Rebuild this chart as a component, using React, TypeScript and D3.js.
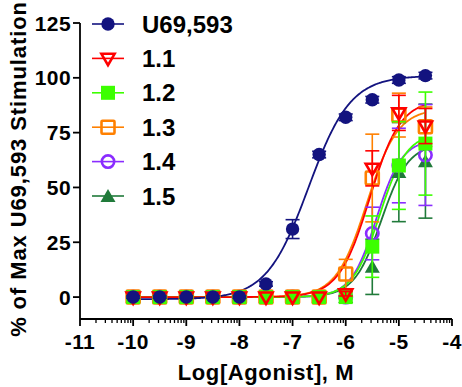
import React from "react";
import * as d3 from "d3";

// ---- data ----
const logDose = [-10, -9.5, -9, -8.5, -8, -7.5, -7, -6.5, -6, -5.5, -5, -4.5];
const seriesNames = ["U69,593", "1.1", "1.2", "1.3", "1.4", "1.5"];
const seriesColors = ["#13137f", "#ff0000", "#3cff00", "#ff8000", "#8a2cff", "#207a3a"];
const seriesShapes = ["circle", "triangleDown", "square", "squareOpen", "circleOpen", "triangleUp"];

const meanU69 = [0, 0, 0, 0, 0, 6, 31, 65, 82, 90, 99, 101];
const semU69 = [0.5, 0.5, 0.5, 0.5, 0.5, 1, 4.3, 1.5, 1.5, 1.5, 1.5, 1.5];
const mean11 = [0, 0, 0, 0, 0, 0, 0, 0, 1.5, 58.7, 84, 78];
const sem11 = [0, 0, 0, 0, 0, 0, 0, 0, 1, 8, 8, 8];
const mean12 = [0, 0, 0, 0, 0, 0, 0, 0, 0, 23, 60, 70];
const sem12 = [0, 0, 0, 0, 0, 0, 0, 0, 0.5, 14, 20, 23.5];
const mean13 = [0, 0, 0, 0, 0, 0, 0, 0, 10.5, 54.3, 83, 77.7];
const sem13 = [0, 0, 0, 0, 0, 0, 0, 0, 6.7, 20, 10, 9];
const mean14 = [0, 0, 0, 0, 0, 0, 0, 0, 0, 29, 60, 64.8];
const sem14 = [0, 0, 0, 0, 0, 0, 0, 0, 0.5, 12, 17, 23];
const mean15 = [0, 0, 0, 0, 0, 0, 0, 0, 0, 13.8, 57, 62];
const sem15 = [0, 0, 0, 0, 0, 0, 0, 0, 0.5, 12.6, 22.6, 26];

// sigmoidal fit parameters (bottom, top, logEC50, Hill slope)
const fitBottom = [-1, 0, 0, 0, 0, 0];
const fitTop = [101, 90, 75, 86, 72, 70];
const fitLogEC50 = [-6.7, -5.55, -5.36, -5.6, -5.42, -5.33];
const fitHill = [1.1, 1.5, 1.7, 1.5, 1.8, 1.7];

const xTicks = [-11, -10, -9, -8, -7, -6, -5, -4];
const yTicks = [0, 25, 50, 75, 100, 125];

const means = [meanU69, mean11, mean12, mean13, mean14, mean15];
const sems = [semU69, sem11, sem12, sem13, sem14, sem15];

const W = 462;
const H = 387;
const FONT = "'Liberation Sans', Arial, Helvetica, sans-serif";

function Marker({ shape, color, cx, cy }: { shape: string; color: string; cx: number; cy: number }) {
  const sw = 2.6;
  switch (shape) {
    case "circle":
      return <circle cx={cx} cy={cy} r={6.7} fill={color} />;
    case "circleOpen":
      return <circle cx={cx} cy={cy} r={6.2} fill="none" stroke={color} strokeWidth={sw} />;
    case "square":
      return <rect x={cx - 7} y={cy - 7} width={14} height={14} fill={color} />;
    case "squareOpen":
      return (
        <rect x={cx - 6.5} y={cy - 6.5} width={13} height={13} rx={1} fill="none" stroke={color} strokeWidth={sw} />
      );
    case "triangleDown":
      return (
        <path
          d={`M${cx - 6.6},${cy - 4.6}L${cx + 6.6},${cy - 4.6}L${cx},${cy + 6.8}Z`}
          fill="none"
          stroke={color}
          strokeWidth={sw}
          strokeLinejoin="miter"
        />
      );
    case "triangleUp":
      return <path d={`M${cx - 7.5},${cy + 6}L${cx + 7.5},${cy + 6}L${cx},${cy - 7}Z`} fill={color} />;
    default:
      return null;
  }
}

export default function App() {
  const x = d3.scaleLinear().domain([-11, -4]).range([80, 452]);
  const y = d3.scaleLinear().domain([-10, 125]).range([319, 23]);

  const curveX = d3.range(-10, -4.5 + 1e-9, 0.02);
  const line = d3
    .line<number>()
    .x((d) => x(d))
    .curve(d3.curveLinear);

  const curves = seriesNames.map((_, i) =>
    line.y((d) => y(fitBottom[i] + (fitTop[i] - fitBottom[i]) / (1 + Math.pow(10, (fitLogEC50[i] - d) * fitHill[i]))))(
      curveX
    )
  );

  const minorTicks: number[] = [];
  for (let dec = -11; dec < -4; dec++) {
    for (let k = 2; k <= 9; k++) minorTicks.push(dec + Math.log10(k));
  }

  const order = [5, 4, 3, 2, 1, 0];
  const legendY = (i: number) => 24 + i * 34.4;

  return (
    <svg
      width={W}
      height={H}
      style={{ position: "absolute", left: 0, top: 0, background: "#fff" }}
      fontFamily={FONT}
      fontWeight="bold"
    >
      <rect width={W} height={H} fill="#fff" />
      {/* curves */}
      {order.map((i) => (
        <path key={"c" + i} d={curves[i] || ""} fill="none" stroke={seriesColors[i]} strokeWidth={1.8} />
      ))}
      {/* data */}
      {order.map((i) => (
        <g key={"s" + i}>
          {logDose.map((ld, j) =>
            sems[i][j] > 0 ? (
              <g key={j} stroke={seriesColors[i]} strokeWidth={1.6}>
                <line x1={x(ld)} x2={x(ld)} y1={y(means[i][j] - sems[i][j])} y2={y(means[i][j] + sems[i][j])} />
                <line x1={x(ld) - 7} x2={x(ld) + 7} y1={y(means[i][j] + sems[i][j])} y2={y(means[i][j] + sems[i][j])} />
                <line x1={x(ld) - 7} x2={x(ld) + 7} y1={y(means[i][j] - sems[i][j])} y2={y(means[i][j] - sems[i][j])} />
              </g>
            ) : null
          )}
          {logDose.map((ld, j) => (
            <Marker key={"m" + j} shape={seriesShapes[i]} color={seriesColors[i]} cx={x(ld)} cy={y(means[i][j])} />
          ))}
        </g>
      ))}
      {/* axes */}
      <g stroke="#000" strokeWidth={1.8} fill="none">
        <line x1={x(-11)} x2={x(-11)} y1={y(125)} y2={y(-10)} />
        <line x1={x(-11)} x2={x(-4)} y1={y(-10)} y2={y(-10)} />
        {yTicks.map((t) => (
          <line key={"yt" + t} x1={x(-11) - 7} x2={x(-11)} y1={y(t)} y2={y(t)} />
        ))}
        {xTicks.map((t) => (
          <line key={"xt" + t} x1={x(t)} x2={x(t)} y1={y(-10)} y2={y(-10) + 7} />
        ))}
        {minorTicks.map((t, k) => (
          <line key={"mt" + k} x1={x(t)} x2={x(t)} y1={y(-10)} y2={y(-10) + 4} strokeWidth={1.3} />
        ))}
      </g>
      <g fontSize={21} fill="#000" letterSpacing={0.4}>
        {yTicks.map((t) => (
          <text key={"yl" + t} x={x(-11) - 9} y={y(t)} dy="0.36em" textAnchor="end">
            {t}
          </text>
        ))}
        {xTicks.map((t) => (
          <text key={"xl" + t} x={x(t)} y={349} textAnchor="middle">
            {t}
          </text>
        ))}
      </g>
      <text x={(x(-11) + x(-4)) / 2} y={380} textAnchor="middle" fontSize={22} letterSpacing={0.6}>
        Log[Agonist], M
      </text>
      <text
        transform={`translate(26,${(y(125) + y(-10)) / 2 - 2}) rotate(-90)`}
        textAnchor="middle"
        fontSize={22}
        letterSpacing={0.9}
      >
        % of Max U69,593 Stimulation
      </text>
      {/* legend */}
      {seriesNames.map((name, i) => (
        <g key={"lg" + i}>
          <line x1={92} x2={124} y1={legendY(i)} y2={legendY(i)} stroke={seriesColors[i]} strokeWidth={1.6} />
          <Marker shape={seriesShapes[i]} color={seriesColors[i]} cx={108} cy={legendY(i)} />
          <text x={142} y={legendY(i)} dy="0.36em" fontSize={24}>
            {name}
          </text>
        </g>
      ))}
    </svg>
  );
}
